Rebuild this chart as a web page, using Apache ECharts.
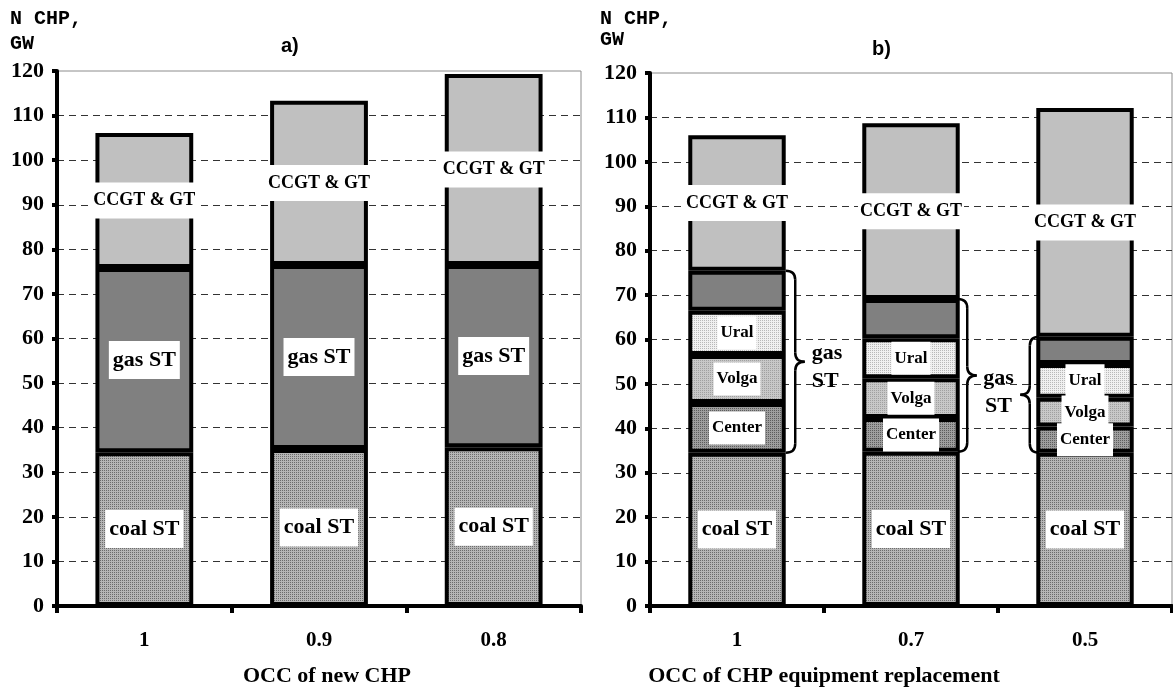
<!DOCTYPE html>
<html>
<head>
<meta charset="utf-8">
<script src="https://cdn.jsdelivr.net/npm/echarts@6/dist/echarts.min.js"></script>
<style>
  html, body { margin: 0; padding: 0; background: #fff; }
  #chart { width: 1173px; height: 690px; }
</style>
</head>
<body>
<div id="chart"></div>
<script>
// panel a) - OCC of new CHP
const catsA = ['1', '0.9', '0.8']
const coalA = [34.5, 35.2, 35.6]
const gasA = [41.3, 41.3, 40.9]
const ccgtA = [30.3, 36.8, 42.8]

// panel b) - OCC of CHP equipment replacement
const catsB = ['1', '0.7', '0.5']
const coalB = [34.5, 34.7, 34.5]
const centerB = [11.2, 7.6, 5.9]
const volgaB = [10.8, 9.0, 6.5]
const uralB = [10.0, 9.0, 7.6]
const gasOtherB = [9.0, 8.8, 6.1]
const ccgtB = [30.5, 39.6, 51.5]

const yTicks = { min: 0, max: 120, interval: 10 }

const SERIF = 'Liberation Serif'

// small dotted fills, one dark pixel per 2x2 tile
const makePattern = (base, dot) => {
  const cv = document.createElement('canvas')
  cv.width = 2
  cv.height = 2
  const ctx = cv.getContext('2d')
  ctx.fillStyle = base
  ctx.fillRect(0, 0, 2, 2)
  ctx.fillStyle = dot
  ctx.fillRect(0, 0, 1, 1)
  return { image: cv, repeat: 'repeat' }
}

const coalPat = makePattern('#b6b6b6', '#6c6c6c')
const centerPat = makePattern('#9e9e9e', '#5c5c5c')
const volgaPat = makePattern('#c8c8c8', '#a0a0a0')
const uralPat = makePattern('#f0f0f0', '#b8b8b8')

const seg = (name, data, idx, color, text, fontSize, pad) => ({
  name,
  type: 'bar',
  stack: 'p' + idx,
  xAxisIndex: idx,
  yAxisIndex: idx,
  data,
  barWidth: '56%',
  itemStyle: { color, borderColor: '#000', borderWidth: 4 },
  label: text ? {
    show: true,
    position: 'inside',
    formatter: text,
    color: '#000',
    fontFamily: SERIF,
    fontWeight: 'bold',
    fontSize,
    lineHeight: fontSize + 2,
    backgroundColor: '#fff',
    padding: pad
  } : { show: false },
  emphasis: { disabled: true }
})

const yAxisCfg = (gi) => ({
  type: 'value',
  gridIndex: gi,
  min: yTicks.min,
  max: yTicks.max,
  interval: yTicks.interval,
  axisLine: { show: true, lineStyle: { color: '#000', width: 4 } },
  axisTick: { show: true, length: 5, lineStyle: { color: '#000', width: 4 } },
  axisLabel: { fontFamily: SERIF, fontWeight: 'bold', fontSize: 22, color: '#000', margin: 13 },
  splitLine: { show: true, showMaxLine: false, showMinLine: false, lineStyle: { color: '#333', width: 1, type: [7, 5] } }
})

const xAxisCfg = (gi, data) => ({
  type: 'category',
  gridIndex: gi,
  data,
  axisLine: { show: true, lineStyle: { color: '#000', width: 4 } },
  axisTick: { show: true, alignWithLabel: false, length: 7, lineStyle: { color: '#000', width: 4 } },
  axisLabel: { fontFamily: SERIF, fontWeight: 'bold', fontSize: 21, color: '#000', margin: 24 }
})

const chart = echarts.init(document.getElementById('chart'))

const option = {
  animation: false,
  backgroundColor: '#fff',
  grid: [
    { left: 57, top: 71, width: 524, height: 535, show: true, borderColor: '#8c8c8c', borderWidth: 1 },
    { left: 650, top: 73, width: 522, height: 533, show: true, borderColor: '#8c8c8c', borderWidth: 1 }
  ],
  xAxis: [xAxisCfg(0, catsA), xAxisCfg(1, catsB)],
  yAxis: [yAxisCfg(0), yAxisCfg(1)],
  series: [
    seg('coal ST', coalA, 0, coalPat, 'coal ST', 22, [7, 4]),
    seg('gas ST', gasA, 0, '#808080', 'gas ST', 22, [7, 4]),
    seg('CCGT & GT', ccgtA, 0, '#c0c0c0', 'CCGT & GT', 18, [8, 2]),
    seg('coal ST', coalB, 1, coalPat, 'coal ST', 22, [7, 4]),
    seg('Center', centerB, 1, centerPat, 'Center', 17, [7, 3]),
    seg('Volga', volgaB, 1, volgaPat, 'Volga', 17, [7, 3]),
    seg('Ural', uralB, 1, uralPat, 'Ural', 17, [7, 3]),
    seg('gas ST other', gasOtherB, 1, '#808080', '', 0, 0),
    seg('CCGT & GT', ccgtB, 1, '#c0c0c0', 'CCGT & GT', 18, [8, 2])
  ]
}

chart.setOption(option)

// texts and gas ST braces
const txt = (text, x, y, font, align, lh) => ({
  type: 'text',
  x, y,
  style: { text, font, fill: '#000', align: align || 'left', verticalAlign: 'middle', lineHeight: lh }
})

const strokeStyle = { fill: 'none', stroke: '#000', lineWidth: 2.5 }
const curve = (a, c, b) => ({
  type: 'bezierCurve',
  shape: { x1: a[0], y1: a[1], cpx1: c[0], cpy1: c[1], x2: b[0], y2: b[1] },
  style: strokeStyle
})
const seglin = (a, b) => ({
  type: 'line',
  shape: { x1: a[0], y1: a[1], x2: b[0], y2: b[1] },
  style: strokeStyle
})

const brace = (x, y1, y2, w, dir) => {
  const r = 9
  const ym = (y1 + y2) / 2
  const xm = x + dir * w * 0.5
  const xt = x + dir * w
  return [
    curve([x, y1], [xm, y1], [xm, y1 + r]),
    seglin([xm, y1 + r], [xm, ym - r]),
    curve([xm, ym - r], [xm, ym], [xt, ym]),
    curve([xt, ym], [xm, ym], [xm, ym + r]),
    seglin([xm, ym + r], [xm, y2 - r]),
    curve([xm, y2 - r], [xm, y2], [x, y2])
  ]
}

const px = (i, v) => chart.convertToPixel({ xAxisIndex: 1, yAxisIndex: 1 }, [i, v])
const catW = px(1, 0)[0] - px(0, 0)[0]
const halfBar = catW * 0.28
const gasTop = i => coalB[i] + centerB[i] + volgaB[i] + uralB[i] + gasOtherB[i]

const b0 = [px(0, gasTop(0))[1], px(0, coalB[0])[1]]
const b1 = [px(1, gasTop(1))[1], px(1, coalB[1])[1]]
const b2 = [px(2, gasTop(2))[1], px(2, coalB[2])[1]]
const x0 = px(0, 0)[0] + halfBar
const x1 = px(1, 0)[0] + halfBar - 2
const x2 = px(2, 0)[0] - halfBar + 3
const bw = 19

const labelFont = `bold 22px "${SERIF}"`

chart.setOption({
  graphic: [
    txt('N CHP,\nGW', 10, 31, 'bold 20px "Liberation Mono"', 'left', 25),
    txt('N CHP,\nGW', 600, 29, 'bold 20px "Liberation Mono"', 'left', 21),
    txt('a)', 281, 46, 'bold 20px "Liberation Sans"', 'left'),
    txt('b)', 872, 49, 'bold 20px "Liberation Sans"', 'left'),
    txt('OCC of new CHP', 327, 676, `bold 22px "${SERIF}"`, 'center'),
    txt('OCC of CHP equipment replacement', 824, 676, `bold 22px "${SERIF}"`, 'center'),
    ...brace(x0, b0[0], b0[1], bw, 1),
    ...brace(x1, b1[0], b1[1], bw, 1),
    ...brace(x2, b2[0], b2[1], bw, -1),
    txt('gas\nST', x0 + bw + 7, (b0[0] + b0[1]) / 2 + 6, labelFont, 'left', 28),
    txt('gas\nST', (x1 + x2) / 2, (b2[0] + b2[1]) / 2 - 2, labelFont, 'center', 28)
  ]
})

window.addEventListener('resize', () => chart.resize())
</script>
</body>
</html>
